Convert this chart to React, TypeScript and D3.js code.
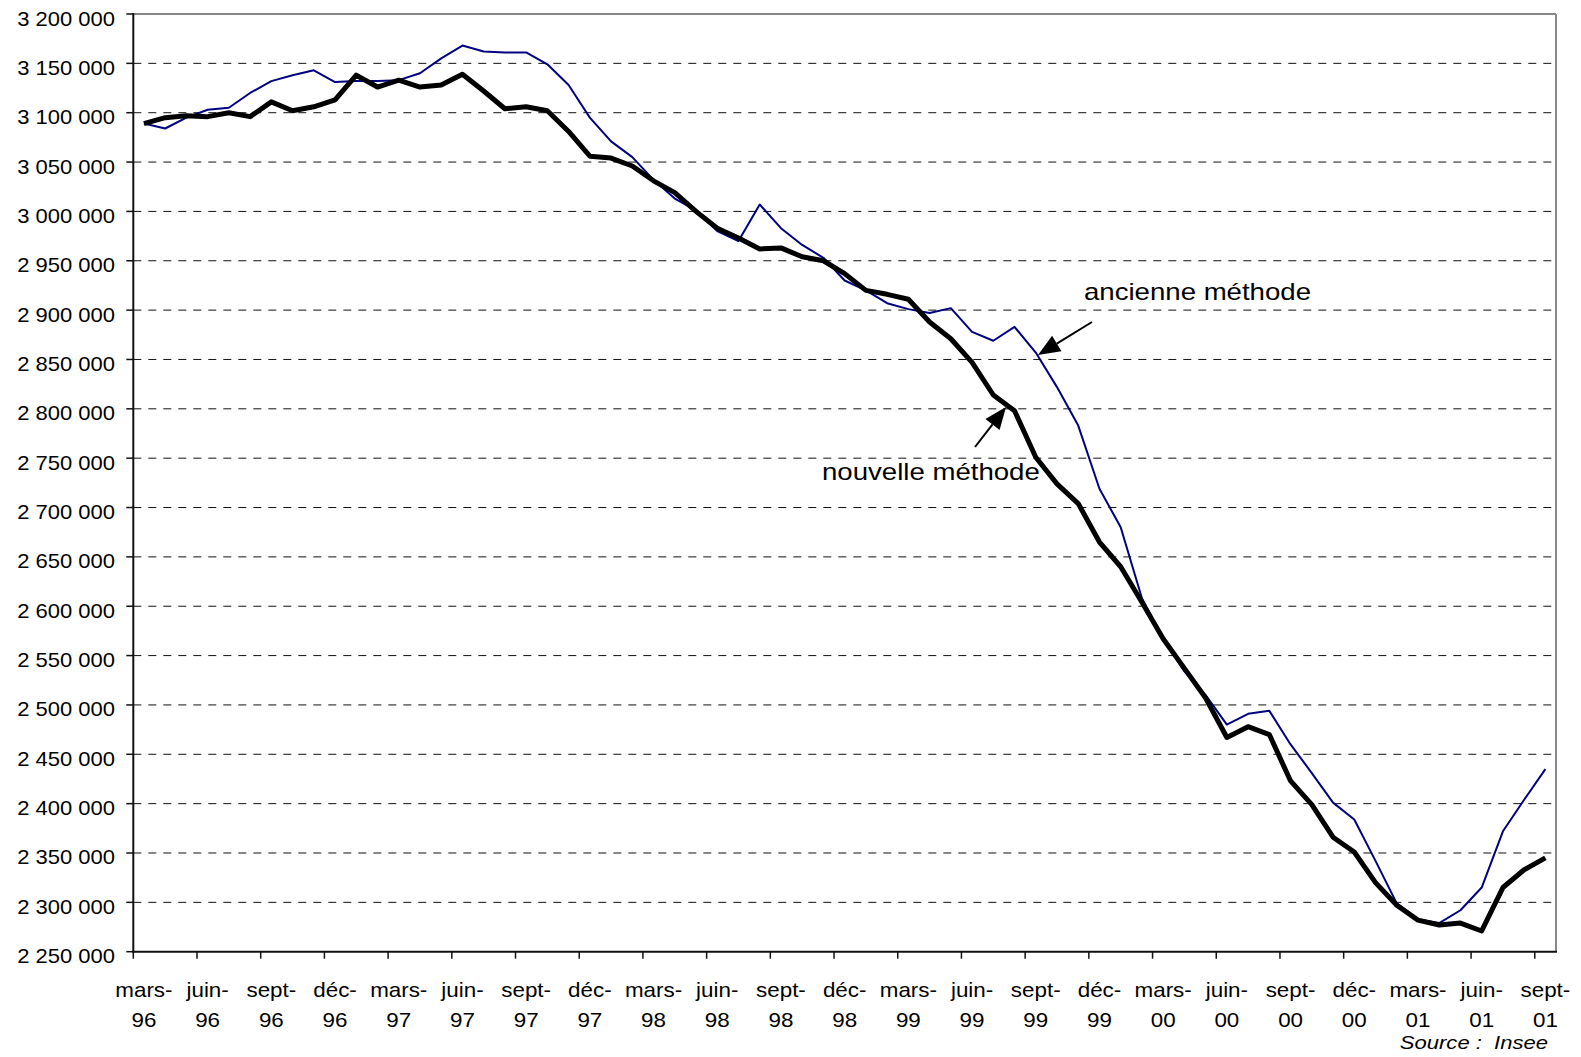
import React from 'react'
import * as d3 from 'd3'

// monthly categories, mars 1996 -> sept 2001
const months = [
  'mars-96', 'avr-96', 'mai-96', 'juin-96', 'juil-96', 'août-96', 'sept-96', 'oct-96', 'nov-96', 'déc-96',
  'janv-97', 'févr-97', 'mars-97', 'avr-97', 'mai-97', 'juin-97', 'juil-97', 'août-97', 'sept-97', 'oct-97', 'nov-97', 'déc-97',
  'janv-98', 'févr-98', 'mars-98', 'avr-98', 'mai-98', 'juin-98', 'juil-98', 'août-98', 'sept-98', 'oct-98', 'nov-98', 'déc-98',
  'janv-99', 'févr-99', 'mars-99', 'avr-99', 'mai-99', 'juin-99', 'juil-99', 'août-99', 'sept-99', 'oct-99', 'nov-99', 'déc-99',
  'janv-00', 'févr-00', 'mars-00', 'avr-00', 'mai-00', 'juin-00', 'juil-00', 'août-00', 'sept-00', 'oct-00', 'nov-00', 'déc-00',
  'janv-01', 'févr-01', 'mars-01', 'avr-01', 'mai-01', 'juin-01', 'juil-01', 'août-01', 'sept-01'
]

// every third month carries a label
const tickMonths = [
  'mars-96', 'juin-96', 'sept-96', 'déc-96', 'mars-97', 'juin-97', 'sept-97', 'déc-97',
  'mars-98', 'juin-98', 'sept-98', 'déc-98', 'mars-99', 'juin-99', 'sept-99', 'déc-99',
  'mars-00', 'juin-00', 'sept-00', 'déc-00', 'mars-01', 'juin-01', 'sept-01'
]

// thousands
const ancienne = [
  3089, 3084, 3095, 3103, 3105, 3120, 3132, 3138, 3143, 3131,
  3132, 3132, 3133, 3140, 3155, 3168, 3162, 3161, 3161, 3149, 3128, 3095,
  3071, 3055, 3032, 3013, 3001, 2980, 2970, 3007, 2983, 2966, 2953, 2930,
  2920, 2907, 2901, 2897, 2902, 2878, 2869, 2883, 2857, 2822, 2783, 2719,
  2680, 2608, 2567, 2534, 2510, 2480, 2491, 2494, 2460, 2431, 2401, 2384,
  2342, 2299, 2283, 2279, 2292, 2315, 2372, 2404, 2435
]

const nouvelle = [
  3089, 3095, 3097, 3096, 3100, 3096, 3111, 3102, 3106, 3113,
  3138, 3126, 3133, 3126, 3128, 3139, 3122, 3104, 3106, 3102, 3081, 3056,
  3054, 3046, 3031, 3019, 3000, 2983, 2973, 2962, 2963, 2954, 2950, 2937,
  2920, 2916, 2911, 2888, 2871, 2847, 2814, 2798, 2751, 2724, 2704, 2665,
  2640, 2604, 2567, 2537, 2507, 2467, 2478, 2470, 2423, 2399, 2366, 2351,
  2320, 2297, 2282, 2277, 2279, 2271, 2315, 2333, 2345
]

const yTicks = d3.range(2250000, 3200001, 50000)

const W = 1581
const H = 1057
const left = 133.3, right = 1556, top = 14, bottom = 951.7

const FONT = '"Liberation Sans", Arial, sans-serif'
const SX = 1.16 // the original picture is stretched horizontally

function Txt({ x, y, size, anchor = 'start', sx = SX, italic = false, children }: any) {
  return (
    <text
      transform={`translate(${x},${y}) scale(${sx},1)`}
      fontFamily={FONT}
      fontSize={size}
      fontStyle={italic ? 'italic' : 'normal'}
      textAnchor={anchor}
      fill="#000"
    >
      {children}
    </text>
  )
}

function Arrow({ x1, y1, x2, y2 }: any) {
  const a = Math.atan2(y2 - y1, x2 - x1)
  const len = 22, hw = 9
  const bx = x2 - len * Math.cos(a), by = y2 - len * Math.sin(a)
  const px = -Math.sin(a) * hw, py = Math.cos(a) * hw
  return (
    <g>
      <line x1={x1} y1={y1} x2={bx} y2={by} stroke="#000" strokeWidth={2} />
      <polygon points={`${x2},${y2} ${bx + px},${by + py} ${bx - px},${by - py}`} fill="#000" />
    </g>
  )
}

export default function App() {
  const x = d3.scalePoint<string>().domain(months).range([left, right]).padding(0.5)
  const step = x.step()
  const y = d3.scaleLinear().domain([2250000, 3200000]).range([bottom, top])

  const line = d3.line<number>()
    .x((_, i) => x(months[i]) as number)
    .y(d => y(d * 1000))

  const fmt = (v: number) => d3.format(',')(v).replace(/,/g, ' ')

  return (
    <svg width={W} height={H} style={{ position: 'absolute', left: 0, top: 0, background: '#fff' }}>
      {/* grid */}
      {yTicks.filter(t => t > 2250000 && t < 3200000).map(t => (
        <line key={t} x1={left} x2={right} y1={y(t)} y2={y(t)}
          stroke="#111" strokeWidth={1} strokeDasharray="8 7" />
      ))}

      {/* frame */}
      <line x1={left} x2={right} y1={top} y2={top} stroke="#888" strokeWidth={2} />
      <line x1={right} x2={right} y1={top} y2={bottom} stroke="#888" strokeWidth={2} />
      <line x1={left} x2={left} y1={top - 1} y2={bottom + 1} stroke="#111" strokeWidth={2} />
      <line x1={left - 1} x2={right + 1} y1={bottom} y2={bottom} stroke="#111" strokeWidth={2} />

      {/* y axis */}
      {yTicks.map(t => (
        <g key={t}>
          <line x1={left - 7} x2={left} y1={y(t)} y2={y(t)} stroke="#111" strokeWidth={1.5} />
          <Txt x={115} y={y(t) + 11.5} size={20} sx={1.1} anchor="end">{fmt(t)}</Txt>
        </g>
      ))}

      {/* x axis */}
      {tickMonths.map(m => {
        const cx = x(m) as number
        const [mo, yr] = m.split('-')
        return (
          <g key={m}>
            <line x1={cx - step / 2} x2={cx - step / 2} y1={bottom} y2={bottom + 7} stroke="#111" strokeWidth={1.5} />
            <Txt x={cx} y={996.5} size={20} sx={1.12} anchor="middle">{mo + '-'}</Txt>
            <Txt x={cx} y={1026.5} size={20} sx={1.12} anchor="middle">{yr}</Txt>
          </g>
        )
      })}

      {/* series */}
      <path d={line(ancienne) as string} fill="none" stroke="#000080" strokeWidth={2} strokeLinejoin="round" />
      <path d={line(nouvelle) as string} fill="none" stroke="#000" strokeWidth={5} strokeLinejoin="round" />

      {/* annotations */}
      <Txt x={1084} y={299.5} size={23} sx={1.2}>ancienne méthode</Txt>
      <Arrow x1={1092} y1={322} x2={1038} y2={355} />
      <Txt x={822} y={480} size={23} sx={1.2}>nouvelle méthode</Txt>
      <Arrow x1={975} y1={447} x2={1006} y2={407} />

      <Txt x={1548} y={1049} size={19} anchor="end" italic>{'Source :\u00a0 Insee'}</Txt>
    </svg>
  )
}
